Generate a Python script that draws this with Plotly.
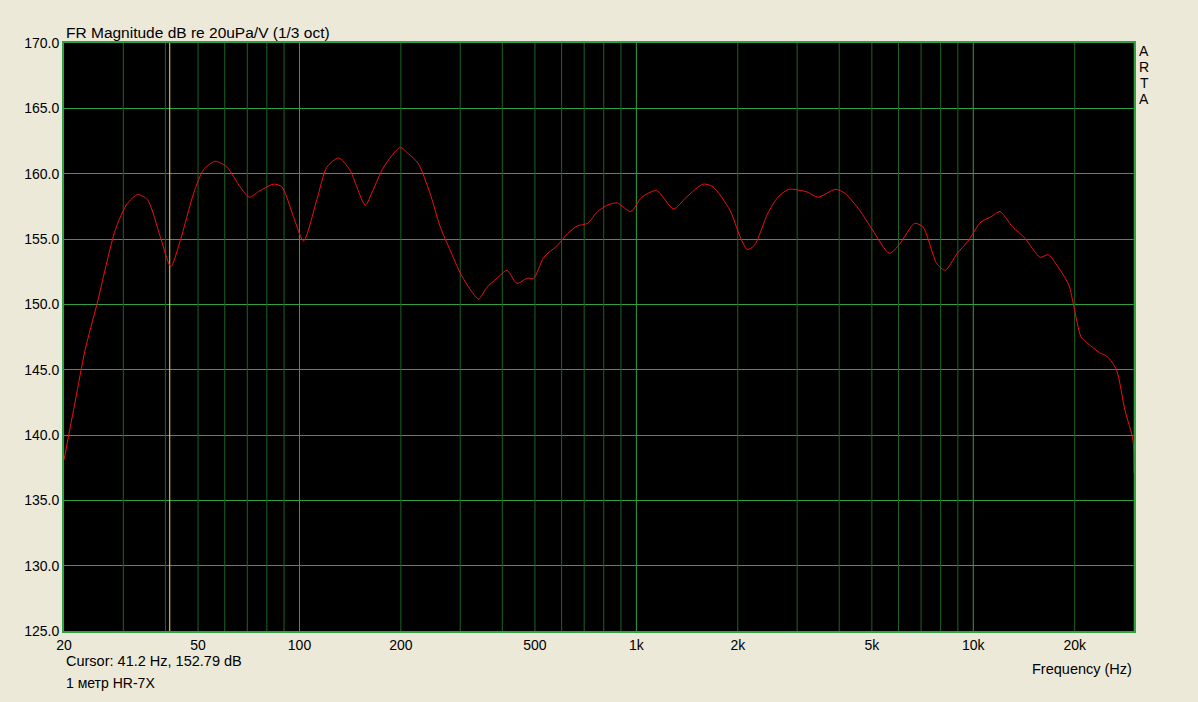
import numpy as np
import plotly.graph_objects as go

# ---- data ----
freq_hz = [20, 21.6, 23.1, 25.1, 28.4, 30.8, 33.1, 35.4, 38.6, 41.5, 44.3, 48.5, 51.9, 56.2,
           60.9, 66.6, 71, 76.4, 83.8, 88.6, 96, 102.8, 112.6, 120.6, 130.6, 141, 156.8,
           165, 177.8, 199, 211, 225, 244, 262, 280.6, 300, 322, 340, 360, 386, 413, 442,
           474, 496, 531, 582, 624, 668, 716, 767, 822, 878, 962, 1038, 1148, 1290, 1408,
           1578, 1688, 1896, 2030, 2134, 2240, 2454, 2632, 2834, 3210, 3460, 3900, 4160,
           4600, 5020, 5640, 6040, 6700, 7100, 7800, 8260, 8960, 9620, 10540, 11300,
           12000, 13100, 14200, 15800, 16700, 17700, 19200, 19900, 20900, 21900, 23700,
           25000, 26600, 28200, 29800, 30000]
mag_db = [138.1, 142.6, 146.5, 150.1, 155.7, 157.7, 158.4, 158.0, 155.2, 152.9, 154.9, 158.5,
          160.3, 160.95, 160.5, 159.0, 158.2, 158.7, 159.2, 159.0, 156.7, 154.85, 158.0,
          160.5, 161.2, 160.3, 157.6, 158.7, 160.5, 162.0, 161.5, 160.8, 158.5, 155.9,
          154.1, 152.4, 151.1, 150.4, 151.3, 152.0, 152.6, 151.6, 152.0, 152.0, 153.6,
          154.5, 155.4, 156.0, 156.2, 157.1, 157.6, 157.76, 157.1, 158.2, 158.7, 157.3,
          158.2, 159.2, 159.0, 157.2, 155.2, 154.2, 154.5, 156.95, 158.2, 158.8, 158.6,
          158.2, 158.8, 158.5, 157.2, 155.7, 153.9, 154.6, 156.2, 155.9, 153.1, 152.6,
          153.9, 154.8, 156.3, 156.7, 157.1, 155.9, 155.1, 153.6, 153.8, 153.0, 151.5,
          149.8, 147.5, 147.0, 146.3, 146.0, 145.0, 141.9, 139.6, 137.1]

cursor_hz = 41.2
cursor_db = 152.79

x_tick_vals = [20, 50, 100, 200, 500, 1000, 2000, 5000, 10000, 20000]
x_tick_text = ["20", "50", "100", "200", "500", "1k", "2k", "5k", "10k", "20k"]
decade_lines = [100, 1000, 10000]
y_min, y_max, y_step = 125, 170, 5
x_min, x_max = 20, 30000

# ---- figure ----
minor_vals = [m * 10 ** e for e in range(1, 5) for m in range(2, 10)]
minor_vals = [v for v in minor_vals if x_min < v <= x_max]


def vlines(vals):
    xs, ys = [], []
    for v in vals:
        xs += [v, v, None]
        ys += [y_min, y_max, None]
    return xs, ys


FONT = "Liberation Sans"
bright = "#30A040"
dark = "#1C6426"
BG = "#ECE9D8"

fig = go.Figure()
mx, my = vlines(minor_vals)
fig.add_trace(go.Scatter(x=mx, y=my, mode="lines", line=dict(color=dark, width=1),
                         hoverinfo="skip", showlegend=False))
dx, dy = vlines(decade_lines)
fig.add_trace(go.Scatter(x=dx, y=dy, mode="lines", line=dict(color=bright, width=1),
                         hoverinfo="skip", showlegend=False))
fig.add_trace(go.Scatter(x=[cursor_hz, cursor_hz], y=[y_min, y_max], mode="lines",
                         line=dict(color="#FFE030", width=1), hoverinfo="skip",
                         showlegend=False))
fig.add_trace(go.Scatter(x=freq_hz, y=mag_db, mode="lines",
                         line=dict(color="#F01010", width=1, shape="spline", smoothing=0.7),
                         showlegend=False))

annotations = [
    dict(text="FR Magnitude dB re 20uPa/V (1/3 oct)", xref="paper", yref="paper",
         x=0, y=1, xanchor="left", yanchor="bottom", yshift=0, xshift=0,
         showarrow=False, font=dict(size=15.5)),
    dict(text=f"Cursor: {cursor_hz} Hz, {cursor_db:.2f} dB", xref="paper",
         yref="paper", x=0, y=0, xanchor="left", yanchor="top", yshift=-20,
         showarrow=False, font=dict(size=14.5)),
    dict(text="1 метр HR-7X", xref="paper", yref="paper", x=0, y=0,
         xanchor="left", yanchor="top", yshift=-42, showarrow=False,
         font=dict(size=14)),
    dict(text="Frequency (Hz)", xref="paper", yref="paper", x=1, y=0,
         xanchor="right", yanchor="top", yshift=-28, showarrow=False,
         font=dict(size=14.5)),
]
for i, ch in enumerate("ARTA"):
    annotations.append(dict(text=ch, xref="paper", yref="paper", x=1, y=1,
                            xanchor="center", yanchor="top", xshift=10,
                            yshift=2 - 16 * i, showarrow=False, font=dict(size=14)))

fig.update_layout(
    template="none",
    width=1198, height=702,
    margin=dict(l=64, r=64, t=43, b=71),
    paper_bgcolor=BG,
    plot_bgcolor="#000000",
    font=dict(family=FONT, size=14, color="#000000"),
    hovermode=False,
    xaxis=dict(type="log", range=[np.log10(x_min), np.log10(x_max)],
               tickmode="array", tickvals=x_tick_vals, ticktext=x_tick_text,
               showgrid=False, ticks="", ticklen=0,
               showline=True, linecolor=bright, linewidth=2, mirror=True,
               zeroline=False, tickfont=dict(size=14)),
    yaxis=dict(range=[y_min, y_max], dtick=y_step, tick0=y_min, tickformat=".1f",
               showgrid=True, gridcolor=bright, gridwidth=1, ticks="", ticklen=0,
               showline=True, linecolor=bright, linewidth=2, mirror=True,
               zeroline=False, tickfont=dict(size=14), ticklabelstandoff=0),
    annotations=annotations,
)

fig.write_html("out.html", config={"displayModeBar": False},
               post_script=f"document.body.style.margin='0';"
                           f"document.body.style.background='{BG}';")
